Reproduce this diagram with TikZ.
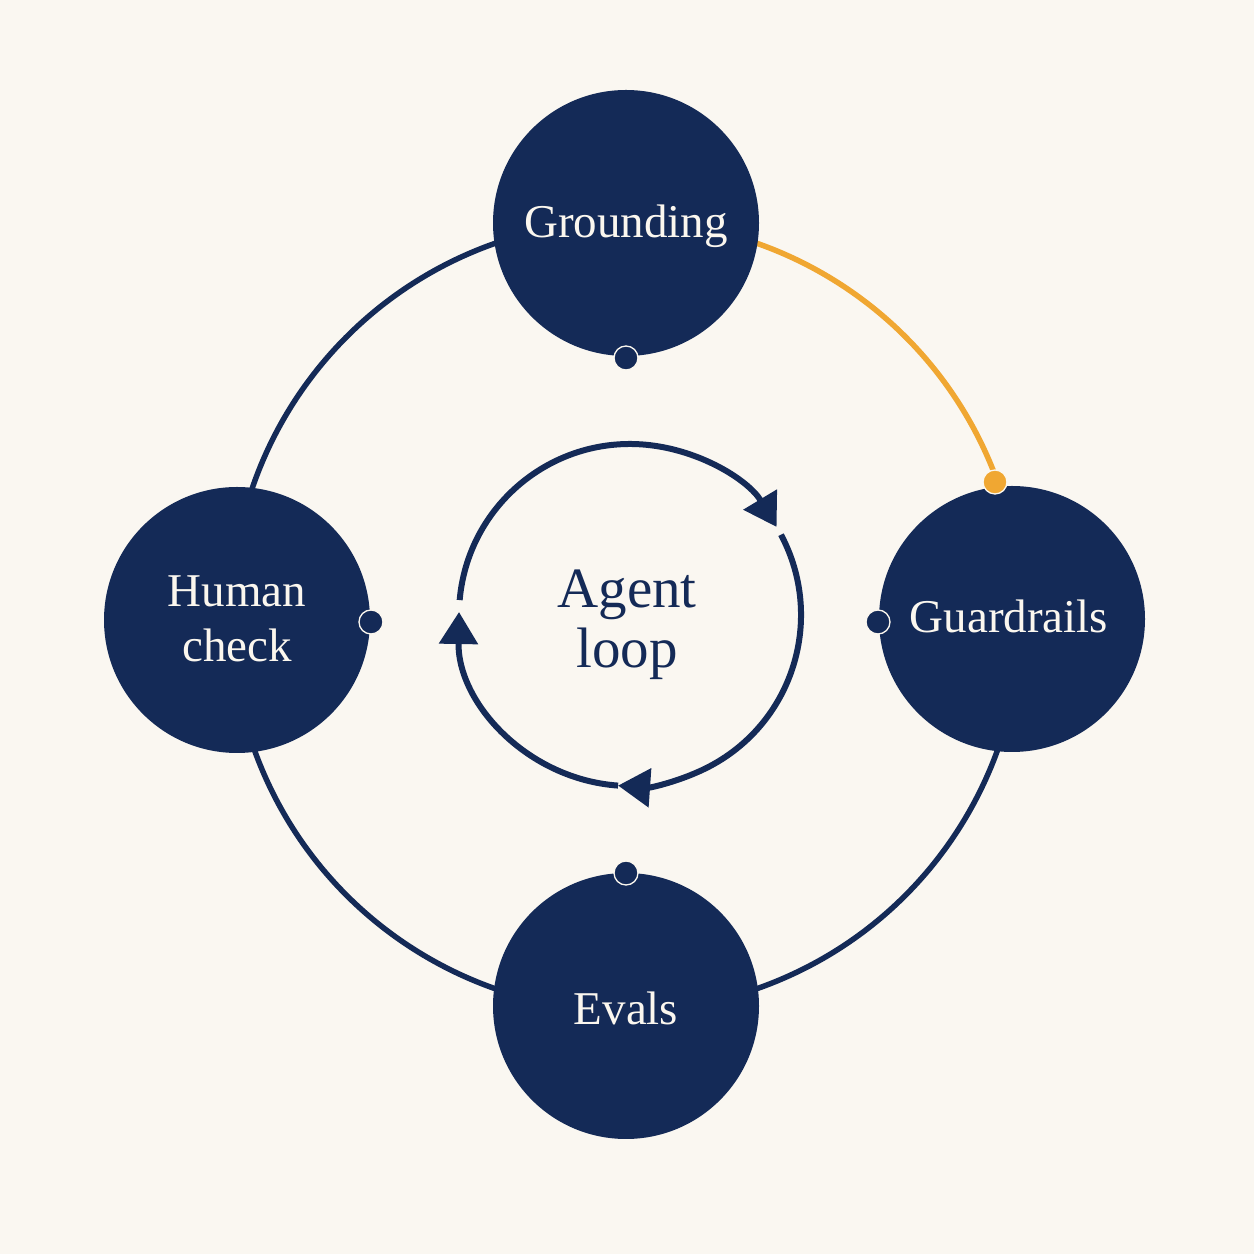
\documentclass[tikz,border=0pt]{standalone}
\usepackage{fontspec}
\setmainfont{Liberation Serif}
\usetikzlibrary{arrows.meta}

\definecolor{paper}{HTML}{FAF7F1}
\definecolor{navy}{HTML}{142A57}
\definecolor{amber}{HTML}{F0A732}
\definecolor{cream}{HTML}{FBF7EF}

\tikzset{
  bigdisc/.style={circle, fill=navy, minimum size=266pt, inner sep=0pt},
  port/.style={circle, fill=navy, draw=cream, line width=1.3pt, minimum size=24pt, inner sep=0pt},
  hotport/.style={port, fill=amber},
  ring/.style={draw=navy, line width=5.5pt},
  hotring/.style={draw=amber, line width=5.5pt},
  stagelabel/.style={text=cream, anchor=base, font=\fontsize{47}{56}\selectfont},
  looplabel/.style={text=navy, anchor=base, font=\fontsize{57}{60}\selectfont},
  looparc/.style={draw=navy, line width=6pt, -{Triangle[length=32pt,width=38pt]}},
}

\begin{document}
\begin{tikzpicture}[x=1pt, y=1pt]
  % canvas
  \fill[paper] (0,0) rectangle (1254,1254);
  \useasboundingbox (0,0) rectangle (1254,1254);

  % outer ring joining the four stages
  \coordinate (O) at (626,638);
  \draw[ring] (O) ++(20:395) arc[start angle=20, end angle=-270, radius=395];
  \draw[hotring] (O) ++(90:395) arc[start angle=90, end angle=20, radius=395];

  % stage discs
  \node[bigdisc] (grounding) at (626,1031) {};
  \node[bigdisc] (guardrails) at (1012,635) {};
  \node[bigdisc] (evals) at (626,248) {};
  \node[bigdisc] (human) at (237,634) {};

  % ports on the discs
  \node[port] (pG) at (626,896) {};
  \node[port] (pGrL) at (878,632) {};
  \node[hotport] (pGrT) at (995,772) {};
  \node[port] (pH) at (371,632) {};
  \node[port] (pE) at (626,381) {};

  % stage labels
  \node[stagelabel] (tG) at (626,1016) {Grounding};
  \node[stagelabel] (tGr) at (1009,621) {Guardrails};
  \node[stagelabel] (tE) at (626,229) {Evals};
  \node[stagelabel] (tH1) at (237,647) {Human};
  \node[stagelabel] (tH2) at (237,592) {check};

  % central loop
  \coordinate (C) at (630,639);
  \draw[looparc] (C) ++(175:171) arc[start angle=175, end angle=31, radius=171];
  \draw[looparc] (C) ++(28:171) arc[start angle=28, end angle=-94, radius=171];
  \draw[looparc] (C) ++(-94:171) arc[start angle=-94, end angle=-181, radius=171];

  \node[looplabel] (tA1) at (627,646) {Agent};
  \node[looplabel] (tA2) at (627,586) {loop};
\end{tikzpicture}
\end{document}
